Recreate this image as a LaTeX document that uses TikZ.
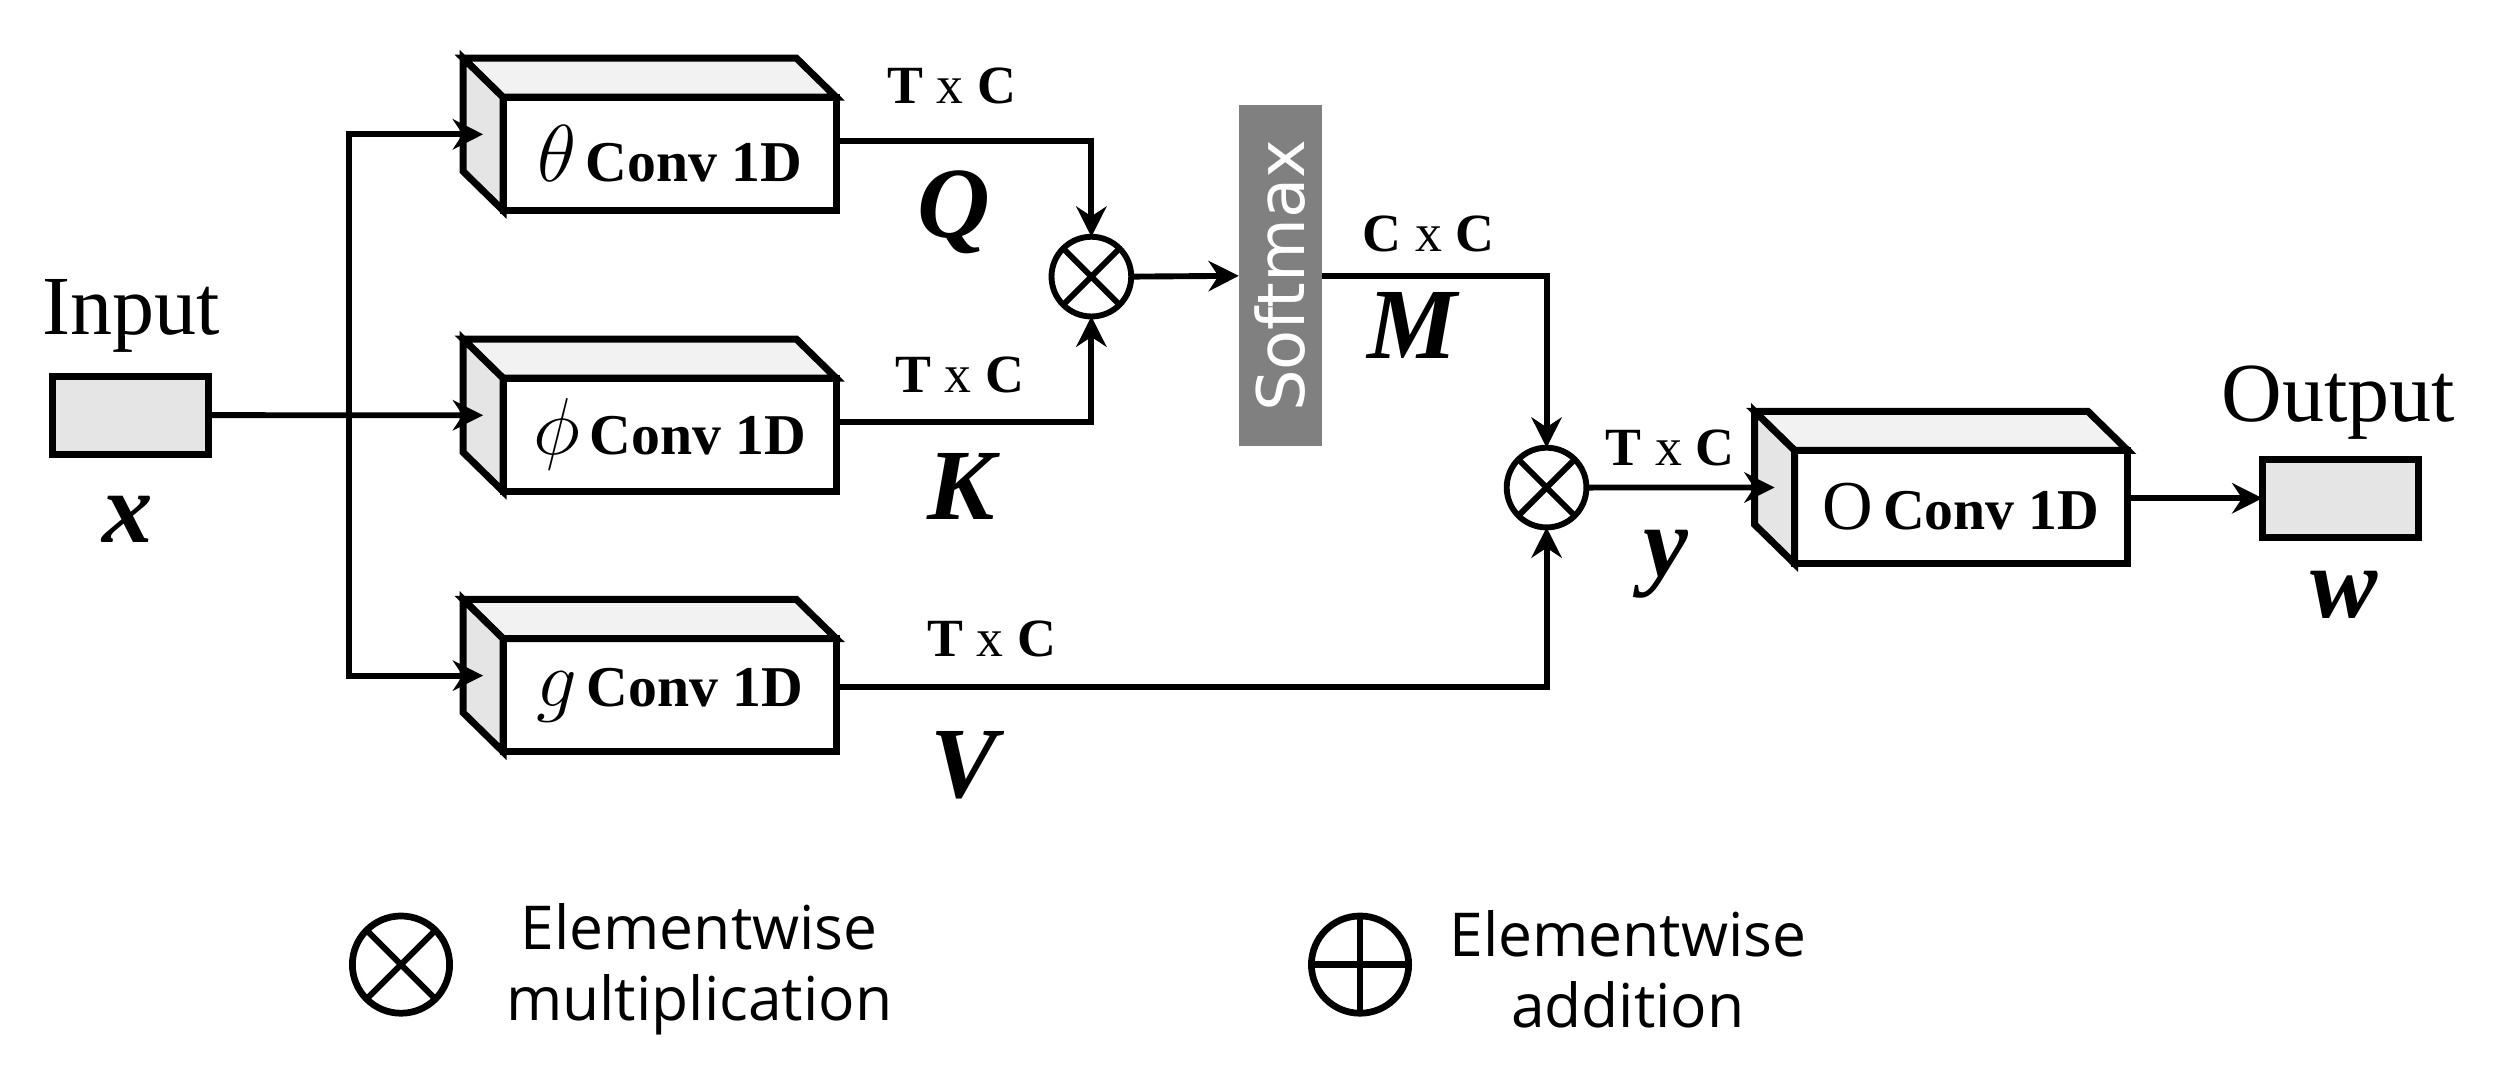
\documentclass[tikz,border=0pt]{standalone}
\usepackage{fontspec}
\setmainfont{Liberation Serif}
\newfontfamily\legendfont{Open Sans}
\newfontfamily\smaxfont{DejaVu Sans}
\usetikzlibrary{arrows.meta,positioning}

\begin{document}
\begin{tikzpicture}[
    convbox/.style={draw, line width=1.25pt, fill=white, minimum width=2.09cm, minimum height=0.71cm, inner sep=0pt, outer sep=0pt, font=\fontsize{10.3}{12}\selectfont\bfseries},
    iobox/.style={draw, line width=1.25pt, fill=black!10, minimum width=0.98cm, minimum height=0.49cm, inner sep=0pt, outer sep=0pt},
    mult/.style={draw, circle, line width=1.05pt, minimum size=0.50cm, inner sep=0pt, outer sep=0pt,
        path picture={\draw[line width=1.05pt] (path picture bounding box.north west) -- (path picture bounding box.south east)
            (path picture bounding box.south west) -- (path picture bounding box.north east);}},
    plus/.style={draw, circle, line width=1.2pt, minimum size=0.61cm, inner sep=0pt, outer sep=0pt,
        path picture={\draw[line width=1.2pt] (path picture bounding box.north) -- (path picture bounding box.south)
            (path picture bounding box.west) -- (path picture bounding box.east);}},
    smax/.style={fill=black!50, minimum width=0.52cm, minimum height=2.14cm, inner sep=0pt, outer sep=0pt, text=white, font=\smaxfont\fontsize{11.7}{12}\selectfont},
    dims/.style={anchor=base, inner sep=0pt, font=\fontsize{9.6}{10}\selectfont\bfseries},
    var/.style={anchor=base, inner sep=0pt, font=\fontsize{18}{18}\selectfont\bfseries\itshape},
    title/.style={anchor=base, inner sep=0pt, font=\fontsize{15}{15}\selectfont},
    key/.style={align=center, inner sep=0pt, font=\legendfont\fontsize{10.8}{12.6}\selectfont},
    arrow/.style={-{Stealth[length=1.9mm, width=1.9mm]}, line width=1.05pt},
    face/.style={line width=1.25pt}
]
\useasboundingbox (0,0) rectangle (15.68,-6.79);

% input
\node[iobox] (inbox) at (0.82,-2.604) {};
\node[title] (inlabel) at (0.82,-2.095) {Input};
\node[var] (xlabel) at (0.80,-3.40) {x};
\coordinate (split) at (2.19,-2.604);

% conv blocks
\node[convbox] (theta) at (4.20,-0.965) {{\fontsize{14}{14}\selectfont$\theta$}\,Conv 1D};
\node[convbox] (phi) at (4.20,-2.727) {{\fontsize{14}{14}\selectfont$\phi$}\,Conv 1D};
\node[convbox] (gfun) at (4.20,-4.36) {{\fontsize{15}{15}\selectfont$g$}\,Conv 1D};
\node[convbox] (ofun) at (12.30,-3.18) {{\fontsize{12.5}{12.5}\selectfont\mdseries O}\,Conv 1D};

\foreach \b in {theta,phi,gfun,ofun} {
  \filldraw[face, fill=black!5] (\b.north west) -- ++(-0.25,0.245) -- ([shift={(-0.25,0.245)}]\b.north east) -- (\b.north east) -- cycle;
  \filldraw[face, fill=black!10] (\b.north west) -- ++(-0.25,0.245) -- ([shift={(-0.25,0.245)}]\b.south west) -- (\b.south west) -- cycle;
  \coordinate (\b-in) at ([shift={(-0.125,0.1225)}]\b.west);
}

% products and softmax
\node[mult] (mul1) at (6.845,-1.735) {};
\node[smax] (smax) at (8.03,-1.73) {\rotatebox{90}{Softmax}};
\node[mult] (mul2) at (9.70,-3.058) {};

% output
\node[iobox] (outbox) at (14.68,-3.125) {};
\node[title] (outlabel) at (14.665,-2.645) {Output};
\node[var] (wlabel) at (14.70,-3.87) {w};

% connectors
\draw[arrow] (inbox.east) -- (phi-in);
\draw[arrow] (split) |- (theta-in);
\draw[arrow] (split) |- (gfun-in);
\draw[arrow] ([yshift=0.8mm]theta.east) -| (mul1.north);
\draw[arrow] ([yshift=0.8mm]phi.east) -| (mul1.south);
\draw[arrow] (mul1.east) -- (smax.west);
\draw[arrow] (smax.east) -| (mul2.north);
\draw[arrow] ([yshift=0.5mm]gfun.east) -| (mul2.south);
\draw[arrow] (mul2.east) -- (ofun-in);
\draw[arrow] (ofun.east |- outbox.west) -- (outbox.west);

% labels
\node[dims] (qdim) at (5.97,-0.648) {T {\mdseries x} C};
\node[var] (qlabel) at (5.98,-1.49) {Q};
\node[dims] (kdim) at (6.02,-2.46) {T {\mdseries x} C};
\node[var] (klabel) at (6.03,-3.26) {K};
\node[dims] (vdim) at (6.22,-4.12) {T {\mdseries x} C};
\node[var] (vlabel) at (6.05,-5.00) {V};
\node[dims] (mdim) at (8.96,-1.58) {C {\mdseries x} C};
\node[var] (mlabel) at (8.86,-2.246) {M};
\node[dims] (ydim) at (10.475,-2.917) {T {\mdseries x} C};
\node[var] (ylabel) at (10.45,-3.615) {y};

% legend
\node[mult, minimum size=0.61cm, line width=1.2pt] (mulkey) at (2.515,-6.05) {};
\node[key] (mulkeytext) at (4.385,-6.08) {Elementwise\\multiplication};
\node[plus] (addkey) at (8.53,-6.05) {};
\node[key] (addkeytext) at (10.21,-6.08) {Elementwise\\addition};

\end{tikzpicture}
\end{document}
